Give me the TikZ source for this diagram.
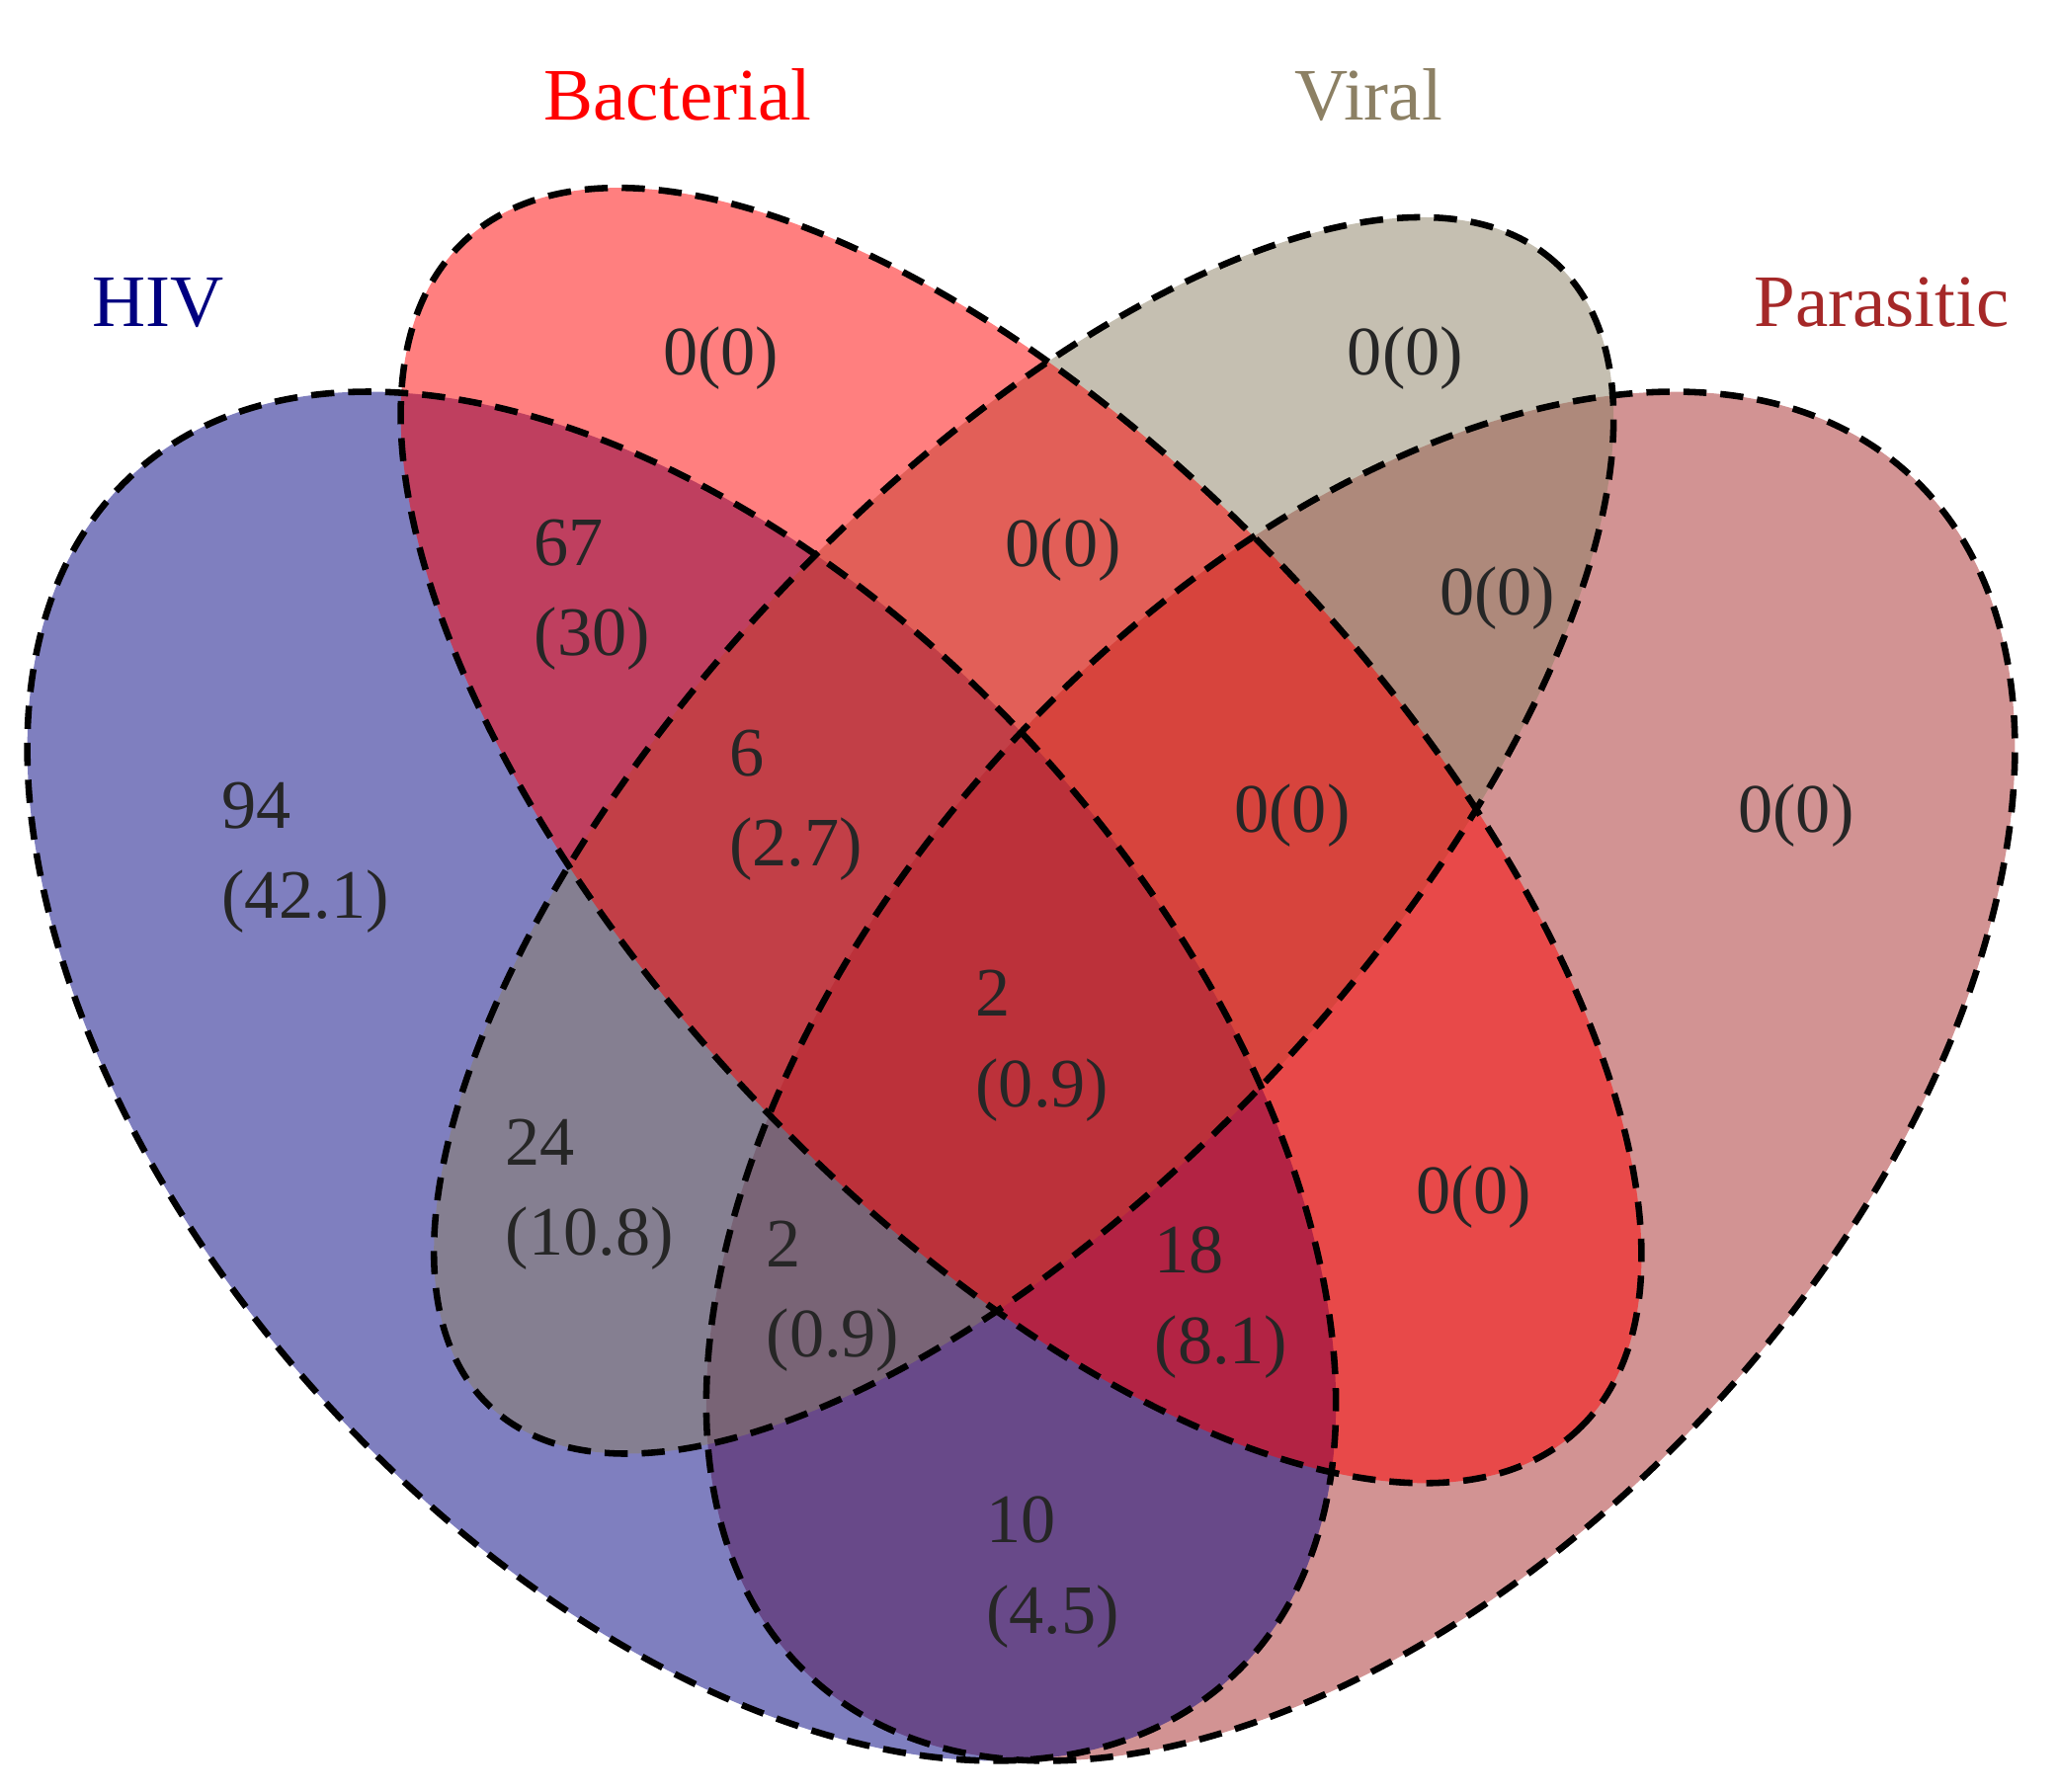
\documentclass[tikz,border=0pt]{standalone}
\usepackage{fontspec}
\setmainfont{Liberation Serif}
\begin{document}
\begin{tikzpicture}[x=0.01cm,y=0.01cm,
  setA/.style={fill opacity=0.5},
  brd/.style={dash pattern=on 5pt off 3pt,line width=1.4pt},
  num/.style={align=left,font=\fontsize{15}{19.5}\selectfont,text=black!85},
  ttl/.style={font=\fontsize{16}{19}\selectfont}]
\definecolor{hivc}{RGB}{0,0,128}
\definecolor{bacc}{RGB}{255,0,0}
\definecolor{virc}{RGB}{140,128,100}
\definecolor{parc}{RGB}{165,40,40}
\useasboundingbox (0,0) rectangle (1564,1362);
\path[setA,fill=parc] (1034,544) ellipse[x radius=619,y radius=367,rotate=47.7];
\path[setA,fill=hivc] (518,544) ellipse[x radius=619,y radius=367,rotate=-47.7];
\path[setA,fill=virc] (778,727) ellipse[x radius=594,y radius=262,rotate=47];
\path[setA,fill=bacc] (776,727) ellipse[x radius=619,y radius=285,rotate=-46.9];
\draw[brd] (1034,544) ellipse[x radius=619,y radius=367,rotate=47.7];
\draw[brd] (518,544) ellipse[x radius=619,y radius=367,rotate=-47.7];
\draw[brd] (778,727) ellipse[x radius=594,y radius=262,rotate=47];
\draw[brd] (776,727) ellipse[x radius=619,y radius=285,rotate=-46.9];
\node[ttl,text=hivc] (tH) at (120,1132) {HIV};
\node[ttl,text=bacc] (tB) at (515,1290) {Bacterial};
\node[ttl,text=virc] (tV) at (1040,1290) {Viral};
\node[ttl,text=parc] (tP) at (1430,1132) {Parasitic};
\node[num] (n1) at (548,1090) {0(0)};
\node[num] (n2) at (1068,1090) {0(0)};
\node[num] (n3) at (450,910) {67\\(30)};
\node[num] (n4) at (808,944) {0(0)};
\node[num] (n5) at (1138,907) {0(0)};
\node[num] (n6) at (232,710) {94\\(42.1)};
\node[num] (n7) at (605,750) {6\\(2.7)};
\node[num] (n8) at (982,742) {0(0)};
\node[num] (n9) at (1365,742) {0(0)};
\node[num] (n10) at (792,567) {2\\(0.9)};
\node[num] (n11) at (448,454) {24\\(10.8)};
\node[num] (n12) at (633,377) {2\\(0.9)};
\node[num] (n13) at (928,372) {18\\(8.1)};
\node[num] (n14) at (1120,452) {0(0)};
\node[num] (n15) at (800,167) {10\\(4.5)};
\end{tikzpicture}
\end{document}
